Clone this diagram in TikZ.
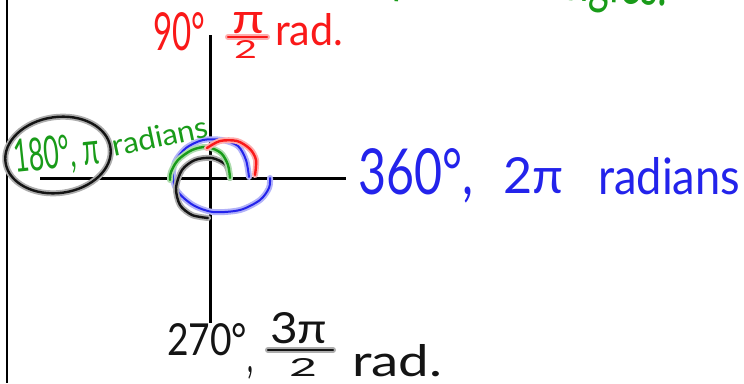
\documentclass[tikz,border=0pt]{standalone}
\usepackage{fontspec}
\setmainfont{Lato}
\usepackage{graphicx}
\usetikzlibrary{shapes.geometric}
\definecolor{hred}{RGB}{250,25,25}
\definecolor{hgreen}{RGB}{25,155,25}
\definecolor{hblue}{RGB}{35,35,235}
\definecolor{hblack}{RGB}{20,20,20}
\newcommand{\hwt}[3]{\resizebox{#1pt}{#2pt}{#3}}
\tikzset{
  ink/.style={line width=2.4pt, draw=#1, line cap=round, line join=round,
    preaction={draw=#1!35, line width=6pt, line cap=round, line join=round}},
  hw/.style={inner sep=0pt, anchor=base west, text=#1},
  axis/.style={line width=3pt, draw=black}
}
\begin{document}
\begin{tikzpicture}[x=1pt,y=1pt]
\useasboundingbox (0,0) rectangle (744,-383);
\fill[white] (0,0) rectangle (744,-383);
% frame line and axes
\coordinate (lt) at (7,0); \coordinate (lb) at (7,-383);
\draw[line width=2.2pt] (lt) -- (lb);
\coordinate (yt) at (210,-35); \coordinate (yb) at (210,-323);
\coordinate (xl) at (40,-178); \coordinate (xr) at (346,-178);
\draw[axis] (yt) -- (yb);
\draw[axis] (xl) -- (xr);
% angle arcs
\draw[ink=hblue, line width=2pt] plot[smooth] coordinates {(249,-177) (246,-160) (238,-146) (222,-140) (203,-140) (186,-148) (175,-162) (173,-178) (178,-192) (193,-205) (213,-212) (240,-210) (260,-200) (269,-188) (270,-178)};
\draw[ink=hblack] plot[smooth] coordinates {(230,-178) (226,-165) (212,-158) (195,-160) (182,-170) (176,-188) (180,-205) (192,-215) (208,-218)};
\draw[ink=hgreen] plot[smooth] coordinates {(230,-178) (228,-165) (221,-153) (207,-147) (192,-150) (178,-160) (171,-172) (170,-180)};
\draw[ink=hred] plot[smooth] coordinates {(207,-148) (220,-141) (237,-141) (250,-149) (256,-160) (255,-175)};
% ellipse around 180
\node[ink=hblack, ellipse, minimum width=106pt, minimum height=76pt, rotate=8] (ring) at (58,-155) {};
% top green title (cut off)
\node[inner sep=0pt, anchor=base east, text=hgreen, rotate=-3] (title) at (667,-6)
  {\scalebox{1}[1.5]{\fontsize{40}{40}\selectfont quadrant angles.}};
% red 90
\node[hw=hred] (n90) at (153,-50) {\hwt{52}{38}{90°}};
\node[hw=hred] (pi1) at (232,-33) {\hwt{32}{21}{π}};
\coordinate (f1l) at (228,-37); \coordinate (f1r) at (267,-37);
\draw[ink=hred] (f1l) -- (f1r);
\node[hw=hred] (two1) at (234,-58) {\hwt{23}{18}{2}};
\node[hw=hred] (rad1) at (275,-45) {\hwt{68}{32}{rad.}};
% green 180
\node[hw=hgreen, rotate=6] (n180) at (15,-173) {\hwt{86}{33}{180°, π}};
\node[hw=hgreen, rotate=12] (rad4) at (114,-157) {\hwt{98}{22}{radians}};
% blue 360
\node[hw=hblue] (n360) at (358,-194) {\hwt{115}{46}{360°,}};
\node[hw=hblue] (n2pi) at (503,-193) {\hwt{60}{36}{2π}};
\node[hw=hblue] (rad2) at (598,-194) {\hwt{142}{37}{radians}};
% black 270
\node[hw=hblack] (n270) at (167,-355) {\hwt{80}{32}{270°}};
\node[hw=hblack] (cm) at (247,-372) {\hwt{6}{6}{,}};
\node[hw=hblack] (n3pi) at (270,-343) {\hwt{57}{31}{3π}};
\coordinate (f3l) at (268,-350); \coordinate (f3r) at (333,-350);
\draw[ink=hblack] (f3l) -- (f3r);
\node[hw=hblack] (two3) at (289,-376) {\hwt{28}{18}{2}};
\node[hw=hblack] (rad3) at (352,-376) {\hwt{90}{32}{rad.}};
\end{tikzpicture}
\end{document}
